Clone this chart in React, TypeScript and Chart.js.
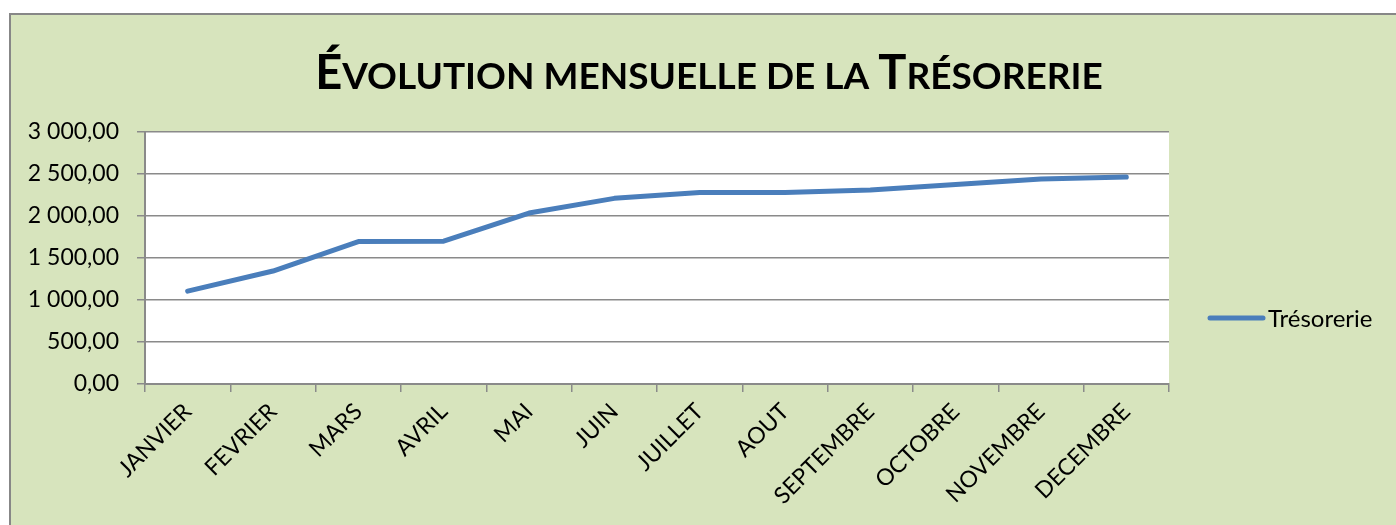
import React, { useEffect, useRef } from 'react';
import { Chart, registerables } from 'chart.js';

Chart.register(...registerables);

// ---- Data ----
const months = ['JANVIER', 'FEVRIER', 'MARS', 'AVRIL', 'MAI', 'JUIN', 'JUILLET', 'AOUT', 'SEPTEMBRE', 'OCTOBRE', 'NOVEMBRE', 'DECEMBRE'];
const tresorerie = [1105, 1345, 1695, 1700, 2035, 2210, 2280, 2280, 2310, 2375, 2440, 2465];
const seriesLabel = 'Trésorerie';
const titleText = 'Évolution mensuelle de la Trésorerie';
const yMin = 0;
const yMax = 3000;
const yStep = 500;

const FONT = 'Lato, "Noto Sans", "DejaVu Sans", sans-serif';
const LINE_COLOR = '#4A7EBB';
const GRID_COLOR = '#8A8A8A';

function formatFr(v: number): string {
  const [i, d] = Math.abs(v).toFixed(2).split('.');
  const ii = i.replace(/\B(?=(\d{3})+(?!\d))/g, ' ');
  return (v < 0 ? '-' : '') + ii + ',' + d;
}

const framePlugin = {
  id: 'frame',
  beforeDraw(chart: any) {
    const { ctx, width, height, chartArea: a } = chart;
    ctx.save();
    ctx.fillStyle = '#ffffff';
    ctx.fillRect(0, 0, width, height);
    ctx.fillStyle = '#D7E4BD';
    ctx.fillRect(10, 14, width - 10, height - 14);
    ctx.strokeStyle = '#878787';
    ctx.lineWidth = 2;
    ctx.beginPath();
    ctx.moveTo(10, height);
    ctx.lineTo(10, 14);
    ctx.lineTo(width, 14);
    ctx.stroke();
    ctx.fillStyle = '#ffffff';
    ctx.fillRect(a.left, a.top, a.right - a.left, a.bottom - a.top);
    ctx.restore();
  },
};

const titlePlugin = {
  id: 'smallCapsTitle',
  afterDraw(chart: any) {
    const { ctx, width } = chart;
    const big = 47;
    const small = 37;
    const runs: { big: boolean; text: string }[] = [];
    for (const ch of titleText) {
      const isBig = ch !== ' ' && ch !== ch.toLowerCase() && ch === ch.toUpperCase();
      const t = ch.toUpperCase();
      const last = runs[runs.length - 1];
      if (last && last.big === isBig) last.text += t;
      else runs.push({ big: isBig, text: t });
    }
    ctx.save();
    let total = 0;
    const widths = runs.map((r) => {
      ctx.font = `bold ${r.big ? big : small}px ${FONT}`;
      const w = ctx.measureText(r.text).width;
      total += w;
      return w;
    });
    let x = width / 2 + 11 - total / 2;
    const baseline = 89;
    ctx.fillStyle = '#000000';
    ctx.textBaseline = 'alphabetic';
    ctx.textAlign = 'left';
    runs.forEach((r, i) => {
      ctx.font = `bold ${r.big ? big : small}px ${FONT}`;
      ctx.fillText(r.text, x, baseline);
      x += widths[i];
    });
    ctx.restore();
  },
};

const legendPlugin = {
  id: 'customLegend',
  afterDraw(chart: any) {
    const { ctx, chartArea: a } = chart;
    const ds = chart.data.datasets[0];
    const y = a.bottom - 66;
    const x0 = a.right + 41;
    ctx.save();
    ctx.strokeStyle = ds.borderColor;
    ctx.lineWidth = 5;
    ctx.lineCap = 'round';
    ctx.beginPath();
    ctx.moveTo(x0, y);
    ctx.lineTo(x0 + 53, y);
    ctx.stroke();
    ctx.fillStyle = '#000000';
    ctx.font = `24px ${FONT}`;
    ctx.textBaseline = 'middle';
    ctx.textAlign = 'left';
    ctx.fillText(ds.label, x0 + 58, y + 1);
    ctx.restore();
  },
};

export default function App() {
  const canvasRef = useRef<HTMLCanvasElement | null>(null);

  useEffect(() => {
    if (!canvasRef.current) return;
    const chart = new Chart(canvasRef.current, {
      type: 'line',
      data: {
        labels: months,
        datasets: [
          {
            label: seriesLabel,
            data: tresorerie,
            borderColor: LINE_COLOR,
            backgroundColor: LINE_COLOR,
            borderWidth: 5,
            borderCapStyle: 'round',
            borderJoinStyle: 'round',
            pointRadius: 0,
            pointHoverRadius: 0,
            tension: 0,
            fill: false,
          },
        ],
      },
      options: {
        animation: false,
        responsive: false,
        maintainAspectRatio: false,
        layout: { padding: { left: 10, top: 132, right: 227, bottom: 0 } },
        plugins: {
          legend: { display: false },
          title: { display: false },
          tooltip: { enabled: false },
        },
        scales: {
          x: {
            type: 'category',
            offset: true,
            grid: {
              offset: true,
              drawOnChartArea: false,
              drawTicks: true,
              tickLength: 8,
              color: GRID_COLOR,
              lineWidth: 1.5,
            },
            border: { display: true, color: GRID_COLOR, width: 2 },
            ticks: {
              autoSkip: false,
              minRotation: 45,
              maxRotation: 45,
              padding: 6,
              color: '#000000',
              font: { family: FONT, size: 23 },
            },
            afterFit(scale: any) {
              scale.height = 141;
            },
          },
          y: {
            min: yMin,
            max: yMax,
            ticks: {
              stepSize: yStep,
              padding: 18,
              color: '#000000',
              font: { family: FONT, size: 23 },
              callback: (v: any) => formatFr(Number(v)),
            },
            grid: {
              color: GRID_COLOR,
              lineWidth: 1.5,
              drawTicks: true,
              tickLength: 8,
            },
            border: { display: true, color: GRID_COLOR, width: 2 },
            afterFit(scale: any) {
              scale.width = 135;
            },
          },
        },
      },
      plugins: [framePlugin, titlePlugin, legendPlugin],
    });
    return () => chart.destroy();
  }, []);

  return (
    <div style={{ position: 'fixed', left: 0, top: 0, width: 1396, height: 525 }}>
      <canvas ref={canvasRef} width={1396} height={525} style={{ display: 'block', width: 1396, height: 525 }} />
    </div>
  );
}
